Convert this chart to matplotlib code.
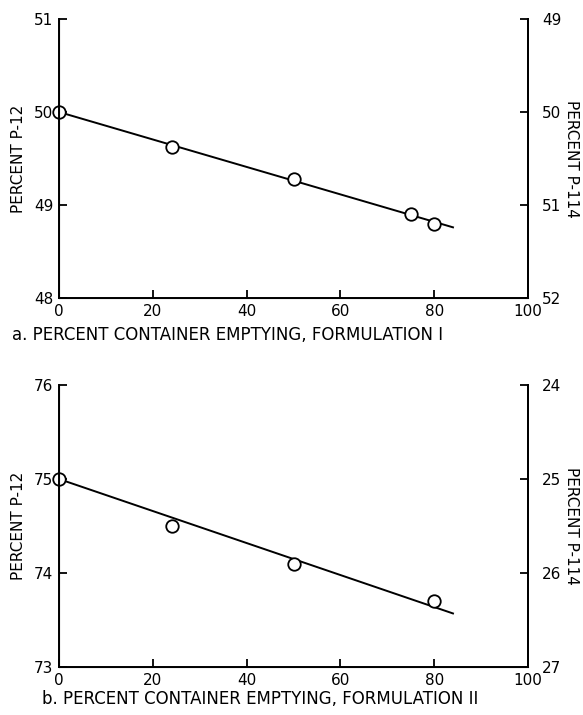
import matplotlib
matplotlib.use("Agg")
from matplotlib import pyplot as plt

# Formulation I
x_a = [0, 24, 50, 75, 80]
p12_a = [50.0, 49.62, 49.28, 48.9, 48.8]
fit_x_a = [0, 84]
fit_y_a = [50.0, 48.76]

# Formulation II
x_b = [0, 24, 50, 80]
p12_b = [75.0, 74.5, 74.1, 73.7]
fit_x_b = [0, 84]
fit_y_b = [75.0, 73.57]

xticks = [0, 20, 40, 60, 80, 100]

plt.rcParams['font.family'] = ['DejaVu Sans']

fig = plt.figure(figsize=(5.83, 7.15), dpi=100)


def panel(rect, x, y, fx, fy, ylo, yhi, label, label_x, label_y):
    ax = fig.add_axes(rect)
    ax.plot(fx, fy, color='black', linewidth=1.4)
    ax.plot(x, y, 'o', markersize=9, markerfacecolor='white',
            markeredgecolor='black', markeredgewidth=1.3, clip_on=False)
    ax.set_xlim(0, 100)
    ax.set_ylim(ylo, yhi)
    ax.set_xticks(xticks)
    ax.set_yticks(range(ylo, yhi + 1))
    ax.spines['top'].set_visible(False)
    for s in ['left', 'bottom', 'right']:
        ax.spines[s].set_linewidth(1.4)
    ax.tick_params(direction='in', length=6, width=1.3, labelsize=11,
                   pad=4)
    ax.set_ylabel('PERCENT P-12', fontsize=11, labelpad=6)
    ax.set_xlabel(label, fontsize=12)
    ax.xaxis.set_label_coords(label_x, label_y)

    # P-114 = 100 - P-12 on the right
    ax2 = ax.twinx()
    ax2.set_ylim(100 - ylo, 100 - yhi)
    ax2.set_yticks(range(100 - yhi, 100 - ylo + 1))
    ax2.spines['top'].set_visible(False)
    ax2.spines['right'].set_linewidth(1.4)
    ax2.tick_params(direction='in', length=6, width=1.3, labelsize=11,
                    pad=10)
    ax2.set_ylabel('PERCENT P-114', fontsize=11, rotation=-90,
                   labelpad=2, va='bottom')
    return ax


panel([0.1012, 0.5832, 0.8045, 0.3902], x_a, p12_a, fit_x_a, fit_y_a,
      48, 51, 'a. PERCENT CONTAINER EMPTYING, FORMULATION I', 0.36, -0.1)
panel([0.1012, 0.0671, 0.8045, 0.3944], x_b, p12_b, fit_x_b, fit_y_b,
      73, 76, 'b. PERCENT CONTAINER EMPTYING, FORMULATION II', 0.43, -0.08)

fig.savefig('out.png', dpi=100)
